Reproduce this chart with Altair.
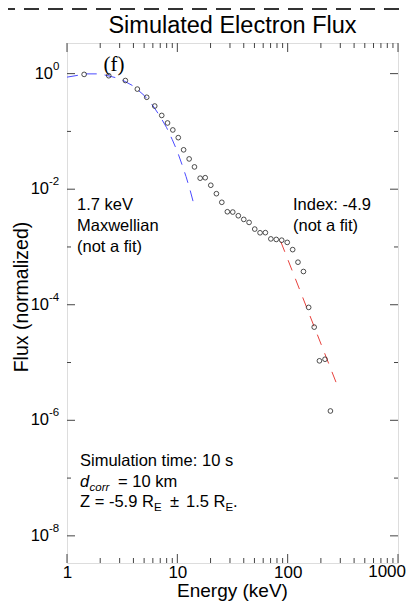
import altair as alt
import pandas as pd

# ---- data ----
energy_kev = [1.43, 2.39, 3.38, 4.34, 5.28, 6.24, 7.22, 8.15, 9.10, 10.2, 11.4, 12.8, 14.3,
              16.1, 17.9, 20.1, 22.6, 25.3, 28.4, 31.8, 35.7, 40.0, 44.7, 50.3, 56.2, 62.8,
              70.4, 78.8, 88.3, 99.1, 111, 124, 139, 155, 174, 194, 218, 244]
flux_norm = [0.97, 0.92, 0.76, 0.54, 0.39, 0.275, 0.189, 0.140, 0.106, 0.078, 0.048, 0.0334,
             0.0243, 0.0155, 0.0158, 0.0117, 0.00836, 0.00593, 0.00407, 0.00402, 0.00347,
             0.0030, 0.00266, 0.00204, 0.00176, 0.00177, 0.00138, 0.00135, 0.00131, 0.00120,
             0.00090, 0.000545, 0.000376, 9.0e-5, 4.1e-5, 1.07e-5, 1.14e-5, 1.45e-6]

maxw_energy = [1, 1.5, 2, 3, 4, 5, 6, 7, 8, 9, 10, 11, 12, 13, 14.3]
maxw_flux = [0.87, 0.99, 0.99, 0.82, 0.61, 0.42, 0.28, 0.18, 0.116, 0.072, 0.045, 0.027,
             0.0165, 0.0099, 0.0050]

power_energy = [86.6, 279]
power_flux = [1.24e-3, 4.2e-6]

x_major = [1, 10, 100, 1000]
x_labels_axis = [1, 10, 100]
x_label_last = [1000]
x_minor = [2, 3, 4, 5, 6, 7, 8, 9, 20, 30, 40, 50, 60, 70, 80, 90,
           200, 300, 400, 500, 600, 700, 800, 900]
y_major = [1, 1e-2, 1e-4, 1e-6, 1e-8]
y_exponents = ["0", "-2", "-4", "-6", "-8"]
y_minor = [1e-1, 1e-3, 1e-5, 1e-7]

W, H = 331, 520
FONT = "Liberation Sans"

xs = alt.Scale(type="log", domain=[1, 1000], nice=False)
ys = alt.Scale(type="log", domain=[3.39e-9, 3.39], nice=False)
x_axis = alt.Axis(values=x_labels_axis, labelExpr="format(datum.value, 'd')", ticks=False,
                  tickSize=0, domain=False, grid=False, labelFontSize=17, labelFont=FONT,
                  labelColor="black", labelPadding=1, labelFlush=False, labelOverlap=False,
                  title=None)

pts = pd.DataFrame({"e": energy_kev, "f": flux_norm})
maxw = pd.DataFrame({"e": maxw_energy, "f": maxw_flux})
powl = pd.DataFrame({"e": power_energy, "f": power_flux})
xmaj = pd.DataFrame({"v": x_major})
xmin = pd.DataFrame({"v": x_minor})
xlast = pd.DataFrame({"v": x_label_last})
ymaj = pd.DataFrame({"v": y_major, "ex": y_exponents})
ymin = pd.DataFrame({"v": y_minor})
one = pd.DataFrame({"a": [0]})

X = lambda f: alt.X(f, scale=xs, axis=x_axis)
Y = lambda f: alt.Y(f, scale=ys, axis=None)

maxw_line = alt.Chart(maxw).mark_line(color="#4b4bff", strokeDash=[11, 8], strokeWidth=1).encode(
    x=X("e:Q"), y=Y("f:Q"))
pow_line = alt.Chart(powl).mark_line(color="#e8413c", strokeDash=[11, 9], strokeWidth=1).encode(
    x=X("e:Q"), y=Y("f:Q"))
points = alt.Chart(pts).mark_point(shape="circle", filled=False, size=22, color="#222",
                                   strokeWidth=0.8, opacity=1).encode(x=X("e:Q"), y=Y("f:Q"))

tick_style = dict(color="#444", strokeWidth=1)
xt = [
    alt.Chart(xmaj).mark_rule(**tick_style).encode(x=X("v:Q"), y=alt.value(H), y2=alt.value(H - 9)),
    alt.Chart(xmaj).mark_rule(**tick_style).encode(x=X("v:Q"), y=alt.value(0), y2=alt.value(9)),
    alt.Chart(xmin).mark_rule(**tick_style).encode(x=X("v:Q"), y=alt.value(H), y2=alt.value(H - 5)),
    alt.Chart(xmin).mark_rule(**tick_style).encode(x=X("v:Q"), y=alt.value(0), y2=alt.value(5)),
]
# last x label kept inside the page so it stays readable
xlab_last = alt.Chart(xlast).mark_text(
    align="right", baseline="top", fontSize=17, font=FONT, color="black", dx=8, dy=1
).encode(x=X("v:Q"), y=alt.value(H), text=alt.Text("v:Q", format="d"))

yt = [
    alt.Chart(ymaj).mark_rule(**tick_style).encode(y=Y("v:Q"), x=alt.value(0), x2=alt.value(8)),
    alt.Chart(ymaj).mark_rule(**tick_style).encode(y=Y("v:Q"), x=alt.value(W), x2=alt.value(W - 8)),
    alt.Chart(ymin).mark_rule(**tick_style).encode(y=Y("v:Q"), x=alt.value(0), x2=alt.value(4)),
    alt.Chart(ymin).mark_rule(**tick_style).encode(y=Y("v:Q"), x=alt.value(W), x2=alt.value(W - 4)),
]

# y tick labels 10^n
ylab = [
    alt.Chart(ymaj).transform_filter("datum.ex == '0'").mark_text(
        text="10", align="right", baseline="middle", fontSize=16.5, font=FONT, color="black"
    ).encode(y=Y("v:Q"), x=alt.value(-14)),
    alt.Chart(ymaj).transform_filter("datum.ex == '0'").mark_text(
        align="left", baseline="middle", fontSize=11.5, font=FONT, color="black", dy=-7
    ).encode(y=Y("v:Q"), x=alt.value(-14), text="ex:N"),
    alt.Chart(ymaj).transform_filter("datum.ex != '0'").mark_text(
        text="10", align="right", baseline="middle", fontSize=16.5, font=FONT, color="black"
    ).encode(y=Y("v:Q"), x=alt.value(-18)),
    alt.Chart(ymaj).transform_filter("datum.ex != '0'").mark_text(
        align="left", baseline="middle", fontSize=11.5, font=FONT, color="black", dy=-7
    ).encode(y=Y("v:Q"), x=alt.value(-18), text="ex:N"),
]


def label(txt, x, y, size=16.5, align="left", font=FONT, style="normal", angle=0,
          baseline="alphabetic", color="black"):
    return alt.Chart(one).mark_text(text=txt, align=align, baseline=baseline, fontSize=size,
                                    font=font, fontStyle=style, angle=angle, color=color).encode(
        x=alt.value(x), y=alt.value(y))


OX, OY = 67, 43  # page position of the plot origin
P = lambda px: px - OX
Q = lambda py: py - OY

texts = [
    label("Simulated Electron Flux", W / 2, Q(33), size=23.5, align="center"),
    label("Energy (keV)", W / 2, Q(597), size=19, align="center"),
    label("Flux (normalized)", P(22), Q(297), size=19.5, align="center", angle=270,
          baseline="middle"),
    label("(f)", P(114), Q(71), size=21, align="center", font="Liberation Serif"),
    label("1.7 keV", P(77), Q(210)),
    label("Maxwellian", P(77), Q(231)),
    label("(not a fit)", P(77), Q(252)),
    label("Index: -4.9", P(293), Q(210)),
    label("(not a fit)", P(293), Q(231)),
    label("Simulation time: 10 s", P(80), Q(466)),
    label("d", P(80), Q(487), style="italic"),
    label("corr", P(89.5), Q(491), size=11.5, style="italic"),
    label("= 10 km", P(118), Q(487)),
    label("Z = -5.9 R", P(80), Q(507)),
    label("E", P(154), Q(511), size=11.5),
    label("±", P(170), Q(507)),
    label("1.5 R", P(186), Q(507)),
    label("E", P(225.5), Q(511), size=11.5),
    label(".", P(233), Q(507)),
]

top_dash = alt.Chart(one).mark_rule(color="#333", strokeWidth=2, strokeDash=[15, 9],
                                    strokeDashOffset=8).encode(
    x=alt.value(-59), x2=alt.value(W + 9), y=alt.value(-34))

chart = alt.layer(maxw_line, pow_line, points, *xt, xlab_last, *yt, *ylab, *texts,
                  top_dash).properties(
    width=W, height=H,
    autosize=alt.AutoSizeParams(type="none"),
    padding={"left": 59, "top": 35, "right": 9, "bottom": 38},
).configure_view(stroke="#444", strokeWidth=1).configure(background="white")

chart.save("out.html", embed_options={"renderer": "svg", "actions": False})
